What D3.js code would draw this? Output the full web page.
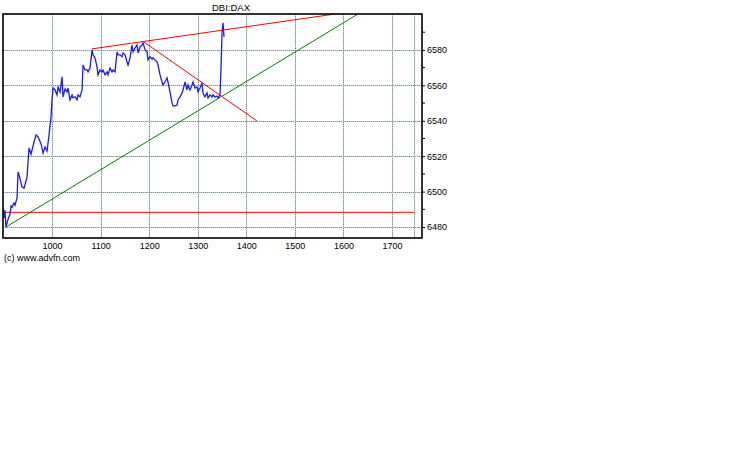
<!DOCTYPE html>
<html><head><meta charset="utf-8">
<script src="https://cdn.jsdelivr.net/npm/d3@7"></script>
<style>body{margin:0;background:#fff}svg{display:block}</style>
</head><body>
<svg id="c" width="738" height="475"></svg>
<script>
const times = [899,901,903,905,909,913.5,915.6,917.6,921.8,923.8,927.9,930,932,938.2,942.4,948.5,952.6,956.7,958.8,962.9,967.1,971.2,977.4,981.5,985.6,989.7,993.8,997.9,1000,1002,1006.2,1010.3,1012.4,1016.5,1020.6,1022.6,1026.8,1030.9,1032.9,1037.1,1041.2,1043.2,1047.4,1051.5,1053.5,1057.6,1061.8,1063.8,1067.9,1072.1,1074.1,1078.2,1082.4,1084.4,1088.5,1092.6,1094.7,1098.8,1102.9,1105,1109.1,1113.2,1115.3,1119.4,1123.5,1125.6,1129.7,1133.8,1135.9,1140,1144.1,1146.2,1150.3,1154.4,1156.5,1160.6,1164.7,1166.8,1170.9,1175,1177.1,1181.2,1185.3,1187.4,1191.5,1195.6,1197.6,1201.8,1205.9,1207.9,1212.1,1216.2,1218.2,1222.4,1226.5,1228.5,1232.6,1236.8,1238.8,1242.9,1247.1,1249.1,1253.2,1257.4,1259.4,1263.5,1267.6,1269.7,1273.8,1277.9,1280,1284.1,1288.2,1290.3,1294.4,1298.5,1300.6,1304.7,1308.8,1310.9,1315,1319.1,1321.2,1325.3,1329.4,1331.5,1335.6,1339.7,1341.8,1345.9,1348,1350,1352.1,1354.1];
const prices = [6490.7,6485.1,6489.6,6480,6484,6487.3,6491.9,6491.3,6493.6,6492.4,6496.4,6511.1,6509.4,6502.6,6502,6508.3,6524.6,6521.2,6523.5,6528,6532,6530.9,6526.9,6521.8,6525.2,6522.9,6532,6542.2,6551.8,6558.5,6557.4,6554.6,6559.1,6556.3,6564.8,6553.5,6558,6556.3,6558.5,6551.8,6554.6,6552.9,6553.5,6551.8,6554.6,6553.5,6557.4,6571.5,6568.7,6568.7,6567.6,6569.8,6580,6577.2,6575.5,6570.4,6565.9,6568.7,6567.6,6568.7,6565.9,6567.6,6565.9,6569.8,6567.6,6568.7,6567.6,6578.9,6577.2,6577.2,6576.1,6578.3,6577.2,6573.2,6571.5,6575.5,6582.8,6578.9,6581.1,6582.8,6578.3,6581.7,6582.8,6584,6580,6578.9,6574.4,6576.1,6574.9,6575.5,6574.4,6573.2,6571.5,6565.9,6561.9,6560.2,6561.9,6564.2,6561.9,6556.3,6550.1,6548.4,6548.4,6548.9,6551.8,6553.5,6555.7,6557.4,6561.9,6557.4,6560.2,6557.4,6560.2,6561.9,6558.5,6559.1,6556.3,6558.5,6561.4,6555.7,6553.5,6555.7,6552.9,6554.6,6553.5,6554.6,6553.5,6554,6552.9,6554.6,6570.4,6589.6,6595.3,6587.4];

const xTicks = [1000,1100,1200,1300,1400,1500,1600,1700];
const xGridExtra = [1745];
const yTicks = [6480,6500,6520,6540,6560,6580];
const yMinor = [6490,6510,6530,6550,6570,6590];
const title = "DBI:DAX";
const credit = "(c) www.advfn.com";

// trend lines: [x1,y1,x2,y2]
const redUpper = [1082, 6580.6, 1583, 6600.3];
const redDown = [1189, 6584.5, 1422, 6539.9];
const greenLine = [905, 6480, 1630, 6600.3];
const redFlat = [899, 6488.3, 1745, 6488.3];

const L = 3, T = 14, R = 422, B = 238;
const x = d3.scaleLinear().domain([899, 1761.8]).range([L, R]);
const y = d3.scaleLinear().domain([6473.8, 6600.3]).range([B, T]);

const svg = d3.select("#c");
svg.append("defs").append("clipPath").attr("id","clip")
  .append("rect").attr("x",L).attr("y",T).attr("width",R-L).attr("height",B-T);

const grid = svg.append("g").attr("shape-rendering","crispEdges");
const vx = xTicks.concat(xGridExtra);
[["#8c8c8c",0],["#b4d8d4",1]].forEach(([col,off])=>{
  grid.selectAll(null).data(vx).enter().append("line")
    .attr("x1",d=>Math.round(x(d))+0.5).attr("x2",d=>Math.round(x(d))+0.5)
    .attr("y1",T).attr("y2",B)
    .attr("stroke",col).attr("stroke-dasharray","1,1").attr("stroke-dashoffset",off);
  grid.selectAll(null).data(yTicks).enter().append("line")
    .attr("y1",d=>Math.round(y(d))+0.5).attr("y2",d=>Math.round(y(d))+0.5)
    .attr("x1",L).attr("x2",R)
    .attr("stroke",col).attr("stroke-dasharray","1,1").attr("stroke-dashoffset",off);
});

const plot = svg.append("g").attr("clip-path","url(#clip)");
function seg(a,col){
  plot.append("line").attr("x1",x(a[0])).attr("y1",y(a[1])).attr("x2",x(a[2])).attr("y2",y(a[3]))
    .attr("stroke",col).attr("stroke-width",1);
}
seg(redFlat,"#ff0000");
seg(greenLine,"#008000");
const pts = times.map((t,i)=>[t,prices[i]]);
plot.append("path").datum(pts)
  .attr("d",d3.line().x(d=>x(d[0])).y(d=>y(d[1])))
  .attr("fill","none").attr("stroke","#1a1aff").attr("stroke-width",1.3);
seg(redUpper,"#ff0000");
seg(redDown,"#ff0000");

// frame
svg.append("rect").attr("x",L).attr("y",T).attr("width",R-L).attr("height",B-T)
  .attr("fill","none").attr("stroke","#000").attr("stroke-width",1.6);

// right axis
const ax = svg.append("g").attr("transform",`translate(${R},0)`);
ax.call(d3.axisRight(y).tickValues(yTicks).tickSize(3).tickPadding(2).tickFormat(d3.format("d")));
ax.select(".domain").remove();
ax.selectAll("text").attr("font-family","Liberation Sans, Arial, sans-serif").attr("font-size","9px").attr("fill","#000");
ax.selectAll(null).data(yMinor).enter().append("line")
  .attr("x1",0).attr("x2",3).attr("y1",d=>y(d)).attr("y2",d=>y(d)).attr("stroke","#000");

// bottom labels
const bx = svg.append("g").attr("transform",`translate(0,${B})`);
bx.call(d3.axisBottom(x).tickValues(xTicks).tickSize(0).tickPadding(5).tickFormat(d3.format("d")));
bx.select(".domain").remove();
bx.selectAll("text").attr("font-family","Liberation Sans, Arial, sans-serif").attr("font-size","9px").attr("fill","#000");

svg.append("text").attr("x",231).attr("y",11).attr("text-anchor","middle")
  .attr("font-family","Liberation Sans, Arial, sans-serif").attr("font-size","9.5px").text(title);
svg.append("text").attr("x",4).attr("y",261)
  .attr("font-family","Liberation Sans, Arial, sans-serif").attr("font-size","9px").text(credit);
</script>
</body></html>
